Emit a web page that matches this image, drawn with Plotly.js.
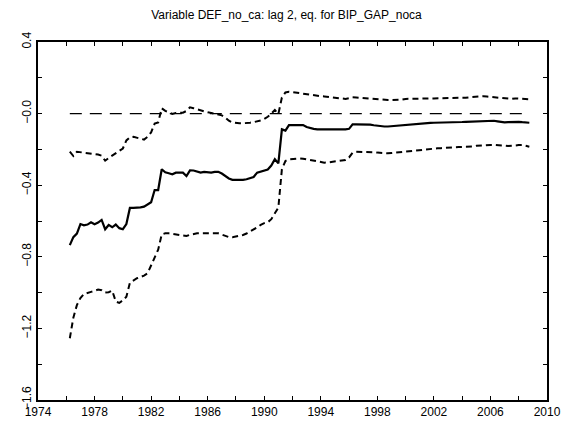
<!DOCTYPE html>
<html>
<head>
<meta charset="utf-8">
<script src="https://cdn.plot.ly/plotly-3.0.1.min.js"></script>
<style>html,body{margin:0;padding:0;background:#fff}#chart{width:573px;height:424px}</style>
</head>
<body>
<div id="chart"></div>
<script>
// Quarterly dates (decimal years)
var dates = [
  1976.25,1976.5,1976.75,
  1977,1977.25,1977.5,1977.75, 1978,1978.25,1978.5,1978.75,
  1979,1979.25,1979.5,1979.75, 1980,1980.25,1980.5,1980.75,
  1981,1981.25,1981.5,1981.75, 1982,1982.25,1982.5,1982.75,
  1983,1983.25,1983.5,1983.75, 1984,1984.25,1984.5,1984.75,
  1985,1985.25,1985.5,1985.75, 1986,1986.25,1986.5,1986.75,
  1987,1987.25,1987.5,1987.75, 1988,1988.25,1988.5,1988.75,
  1989,1989.25,1989.5,1989.75, 1990,1990.25,1990.5,1990.75,
  1991,1991.25,1991.5,1991.75, 1992,1992.25,1992.5,1992.75,
  1993,1993.25,1993.5,1993.75, 1994,1994.25,1994.5,1994.75,
  1995,1995.25,1995.5,1995.75, 1996,1996.25,1996.5,1996.75,
  1997,1997.25,1997.5,1997.75, 1998,1998.25,1998.5,1998.75,
  1999,1999.25,1999.5,1999.75, 2000,2000.25,2000.5,2000.75,
  2001,2001.25,2001.5,2001.75, 2002,2002.25,2002.5,2002.75,
  2003,2003.25,2003.5,2003.75, 2004,2004.25,2004.5,2004.75,
  2005,2005.25,2005.5,2005.75, 2006,2006.25,2006.5,2006.75,
  2007,2007.25,2007.5,2007.75, 2008,2008.25,2008.5,2008.75
];

// Recursive coefficient estimate
var estimate = [
  -0.735,-0.69,-0.67,
  -0.617,-0.624,-0.62,-0.607, -0.618,-0.609,-0.594,-0.646,
  -0.622,-0.635,-0.62,-0.64, -0.646,-0.617,-0.527,-0.527,
  -0.527,-0.524,-0.52,-0.509, -0.495,-0.427,-0.427,-0.311,
  -0.328,-0.333,-0.339,-0.33, -0.33,-0.33,-0.349,-0.317,
  -0.318,-0.324,-0.33,-0.326, -0.327,-0.33,-0.326,-0.325,
  -0.335,-0.35,-0.362,-0.37, -0.371,-0.371,-0.37,-0.367,
  -0.36,-0.354,-0.33,-0.323, -0.32,-0.312,-0.29,-0.255,
  -0.278,-0.088,-0.095,-0.064, -0.064,-0.064,-0.064,-0.064,
  -0.075,-0.082,-0.085,-0.088, -0.088,-0.09,-0.092,-0.091,
  -0.09,-0.088,-0.088,-0.088, -0.085,-0.06,-0.06,-0.06,
  -0.06,-0.06,-0.062,-0.065, -0.068,-0.07,-0.072,-0.072,
  -0.07,-0.068,-0.066,-0.064, -0.063,-0.061,-0.059,-0.057,
  -0.055,-0.054,-0.053,-0.052, -0.051,-0.051,-0.05,-0.05,
  -0.05,-0.049,-0.049,-0.048, -0.047,-0.046,-0.045,-0.044,
  -0.042,-0.04,-0.04,-0.04, -0.04,-0.04,-0.043,-0.047,
  -0.049,-0.048,-0.046,-0.045, -0.046,-0.048,-0.05,-0.051
];

// Upper confidence band
var upper = [
  -0.213,-0.237,-0.213,
  -0.215,-0.218,-0.22,-0.222, -0.226,-0.229,-0.235,-0.263,
  -0.248,-0.235,-0.218,-0.205, -0.195,-0.15,-0.132,-0.13,
  -0.134,-0.138,-0.145,-0.13, -0.105,-0.056,-0.049,0.03,
  0.015,0.008,-0.002,0.004, 0.005,0.005,0.015,0.035,
  0.03,0.024,0.016,0.011, 0.007,0.004,0.0,-0.002,
  -0.01,-0.022,-0.04,-0.05, -0.054,-0.054,-0.054,-0.054,
  -0.051,-0.048,-0.045,-0.038, -0.03,-0.018,0.0,0.02,
  -0.002,0.09,0.118,0.122, 0.12,0.117,0.113,0.109,
  0.106,0.103,0.1,0.098, 0.097,0.096,0.094,0.093,
  0.091,0.089,0.086,0.082, 0.086,0.091,0.09,0.088,
  0.087,0.086,0.085,0.082, 0.08,0.078,0.076,0.076,
  0.076,0.076,0.076,0.078, 0.082,0.083,0.084,0.085,
  0.085,0.085,0.085,0.085, 0.085,0.085,0.085,0.085,
  0.085,0.085,0.086,0.086, 0.087,0.089,0.091,0.093,
  0.096,0.098,0.097,0.095, 0.093,0.091,0.088,0.085,
  0.082,0.08,0.082,0.085, 0.084,0.082,0.08,0.08
];

// Lower confidence band
var lower = [
  -1.255,-1.14,-1.07,
  -1.03,-1.008,-1.0,-0.996, -0.99,-0.983,-0.987,-1.0,
  -0.998,-0.989,-1.05,-1.058, -1.043,-1.023,-0.945,-0.93,
  -0.92,-0.913,-0.905,-0.892, -0.845,-0.805,-0.76,-0.675,
  -0.669,-0.669,-0.672,-0.675, -0.678,-0.68,-0.684,-0.677,
  -0.672,-0.669,-0.669,-0.669, -0.669,-0.669,-0.668,-0.669,
  -0.676,-0.685,-0.69,-0.691, -0.688,-0.684,-0.678,-0.67,
  -0.66,-0.65,-0.636,-0.622, -0.612,-0.607,-0.59,-0.557,
  -0.525,-0.31,-0.265,-0.255, -0.252,-0.25,-0.25,-0.252,
  -0.256,-0.26,-0.263,-0.267, -0.272,-0.274,-0.273,-0.271,
  -0.269,-0.267,-0.263,-0.259, -0.245,-0.218,-0.213,-0.213,
  -0.213,-0.213,-0.214,-0.216, -0.218,-0.22,-0.222,-0.222,
  -0.22,-0.218,-0.216,-0.213, -0.212,-0.209,-0.205,-0.202,
  -0.2,-0.199,-0.198,-0.196, -0.195,-0.194,-0.193,-0.191,
  -0.19,-0.189,-0.188,-0.187, -0.186,-0.186,-0.185,-0.183,
  -0.18,-0.178,-0.175,-0.175, -0.175,-0.175,-0.175,-0.177,
  -0.179,-0.181,-0.181,-0.178, -0.176,-0.175,-0.18,-0.185
];

var zeroRef = dates.map(function(){ return 0; });

var xTickVals = [1974,1978,1982,1986,1990,1994,1998,2002,2006,2010];
var xTickText = ["1974","1978","1982","1986","1990","1994","1998","2002","2006","2010"];
var yTickVals = [0.4,0.0,-0.4,-0.8,-1.2,-1.6];
var yTickText = ["0.4","\u22120.0","\u22120.4","\u22120.8","\u22121.2","\u22121.6"];
var titleText = "Variable DEF_no_ca: lag 2, eq. for BIP_GAP_noca";

var traces = [
  {x: dates, y: zeroRef, mode: 'lines', line: {color: '#000', width: 1.2, dash: '12px,8px'}, hoverinfo: 'skip'},
  {x: dates, y: upper, mode: 'lines', line: {color: '#000', width: 2, dash: '6px,4px'}},
  {x: dates, y: lower, mode: 'lines', line: {color: '#000', width: 2, dash: '6px,4px'}},
  {x: dates, y: estimate, mode: 'lines', line: {color: '#000', width: 2.2}}
];

var font = {family: 'Liberation Sans, Arial, sans-serif', color: '#000', size: 12};

var layout = {
  width: 573, height: 424,
  margin: {l: 37.5, r: 25.5, t: 42, b: 24, pad: 0},
  paper_bgcolor: '#fff', plot_bgcolor: '#fff',
  showlegend: false,
  font: font,
  title: {text: titleText, font: {family: font.family, size: 12, color: '#000'},
          xref: 'container', x: 0.5, xanchor: 'center', yref: 'container', y: 0.965, yanchor: 'middle'},
  xaxis: {
    range: [1974, 2010], showgrid: false, zeroline: false,
    showline: true, linecolor: '#000', linewidth: 2, mirror: 'allticks',
    ticks: 'inside', ticklen: 4, tickwidth: 1, tickcolor: '#000',
    tickmode: 'array', tickvals: xTickVals, ticktext: xTickText,
    tickfont: {family: font.family, size: 12, color: '#000'},
    minor: {tickmode: 'linear', tick0: 1974, dtick: 2, ticks: 'inside', ticklen: 4, tickwidth: 1, tickcolor: '#000', showgrid: false}
  },
  yaxis: {
    range: [-1.6, 0.4], showgrid: false, zeroline: false,
    showline: true, linecolor: '#000', linewidth: 2, mirror: 'allticks',
    ticks: 'inside', ticklen: 4, tickwidth: 1, tickcolor: '#000',
    tickmode: 'array', tickvals: yTickVals, ticktext: yTickText, tickangle: -90,
    tickfont: {family: font.family, size: 12, color: '#000'},
    minor: {tickmode: 'linear', tick0: 0.4, dtick: 0.2, ticks: 'inside', ticklen: 4, tickwidth: 1, tickcolor: '#000', showgrid: false}
  }
};

Plotly.newPlot('chart', traces, layout, {displayModeBar: false, staticPlot: true});
</script>
</body>
</html>
